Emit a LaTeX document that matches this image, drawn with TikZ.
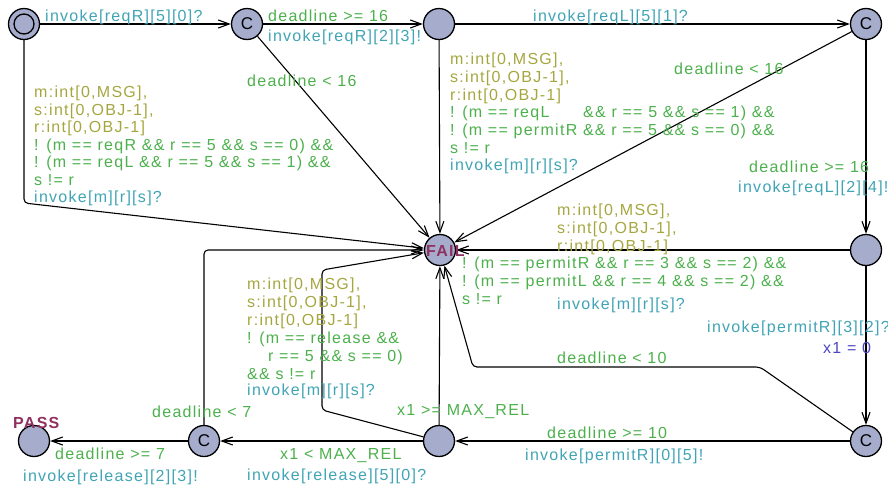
\documentclass[tikz,border=0pt]{standalone}
\usepackage{fontspec}
\setmainfont{Liberation Sans}[LetterSpace=8]
\usetikzlibrary{arrows.meta}
\definecolor{locfill}{RGB}{165,172,204}
\definecolor{selcol}{RGB}{166,166,64}
\definecolor{grdcol}{RGB}{76,176,76}
\definecolor{syncol}{RGB}{64,164,180}
\definecolor{asgcol}{RGB}{74,70,190}
\definecolor{nmcol}{RGB}{144,48,96}
\newcommand\mylbl[5]{\node[tx,#2] (#1) at (#3,#4) {#5};}
\begin{document}
\begin{tikzpicture}[x=1pt,y=-1pt,
  font=\fontsize{16}{17.7}\selectfont,
  loc/.style={circle,draw,fill=locfill,line width=1.3pt,minimum size=31pt,inner sep=0pt},
  comm/.style={loc,font=\fontsize{17}{18}\selectfont},
  conn/.style={line width=1.1pt,-{Straight Barb[length=11pt,width=8pt,line width=1.1pt]},rounded corners=4pt},
  tx/.style={anchor=base west,inner sep=0pt},
  sel/.style={text=selcol},
  grd/.style={text=grdcol},
  syn/.style={text=syncol},
  asg/.style={text=asgcol},
  nm/.style={text=nmcol,font=\fontsize{16}{18}\selectfont\bfseries}]
\useasboundingbox (0,0) rectangle (888,488);
% locations
\node[loc] (init) at (24,24) {};
\node[circle,draw,line width=1.3pt,minimum size=20pt,inner sep=0pt] (initin) at (init.center) {};
\node[comm] (C1) at (247,24) {C};
\node[loc] (N2) at (439,24) {};
\node[comm] (C3) at (866,24) {C};
\node[loc] (FAIL) at (440,250) {};
\node[loc] (N5) at (866,250) {};
\node[comm] (C6) at (866,441) {C};
\node[loc] (N7) at (439,441) {};
\node[comm] (C8) at (204,441) {C};
\node[loc] (PASS) at (34,441) {};
% bend points
\coordinate (b1) at (24,203);
\coordinate (b2) at (760,367);
\coordinate (b3) at (473,367);
\coordinate (b4) at (322,410);
\coordinate (b5) at (322,270);
\coordinate (b6) at (204,250);
% edges
\draw[conn] (init) -- (C1);
\draw[conn] (C1) -- (N2);
\draw[conn] (C1) -- (FAIL);
\draw[conn] (N2) -- (C3);
\draw[conn] (N2) -- (FAIL);
\draw[conn] (C3) -- (FAIL);
\draw[conn] (C3) -- (N5);
\draw[conn] (N5) -- (FAIL);
\draw[conn] (N5) -- (C6);
\draw[conn] (C6) -- (N7);
\draw[conn] (N7) -- (FAIL);
\draw[conn] (N7) -- (C8);
\draw[conn] (C8) -- (PASS);
\draw[conn] (init) -- (b1) -- (FAIL);
\draw[conn] (C6) -- (b2) -- (b3) -- (FAIL);
\draw[conn] (N7) -- (b4) -- (b5) -- (FAIL);
\draw[conn] (C8) -- (b6) -- (FAIL);
% names
\mylbl{nFAIL}{nm}{426}{256}{FAIL}
\mylbl{nPASS}{nm}{13}{428}{PASS}
% top labels
\mylbl{a1}{syn}{45}{21}{invoke[reqR][5][0]?}
\mylbl{a2}{grd}{268}{21}{deadline >= 16}
\mylbl{a3}{syn}{268}{41}{invoke[reqR][2][3]!}
\mylbl{a4}{grd}{247}{86}{deadline < 16}
\mylbl{a5}{syn}{533}{21}{invoke[reqL][5][1]?}
% N2 -> FAIL
\mylbl{b11}{sel}{450}{64}{m:int[0,MSG],}
\mylbl{b12}{sel}{450}{82}{s:int[0,OBJ-1],}
\mylbl{b13}{sel}{450}{100}{r:int[0,OBJ-1]}
\mylbl{b14}{grd}{450}{117}{! (m == reqL}
\mylbl{b15}{grd}{583}{117}{\&\& r == 5 \&\& s == 1) \&\&}
\mylbl{b16}{grd}{450}{135}{! (m == permitR \&\& r == 5 \&\& s == 0) \&\&}
\mylbl{b17}{grd}{450}{153}{s != r}
\mylbl{b18}{syn}{450}{170}{invoke[m][r][s]?}
% C3
\mylbl{c1}{grd}{674}{74}{deadline < 16}
\mylbl{c2}{grd}{749}{172}{deadline >= 16}
\mylbl{c3}{syn}{738}{192}{invoke[reqL][2][4]!}
% init -> FAIL
\mylbl{d1}{sel}{34}{97}{m:int[0,MSG],}
\mylbl{d2}{sel}{34}{115}{s:int[0,OBJ-1],}
\mylbl{d3}{sel}{34}{132}{r:int[0,OBJ-1]}
\mylbl{d4}{grd}{34}{150}{! (m == reqR \&\& r == 5 \&\& s == 0) \&\&}
\mylbl{d5}{grd}{34}{167}{! (m == reqL \&\& r == 5 \&\& s == 1) \&\&}
\mylbl{d6}{grd}{34}{185}{s != r}
\mylbl{d7}{syn}{34}{202}{invoke[m][r][s]?}
% N5 -> FAIL
\mylbl{e1}{sel}{557}{215}{m:int[0,MSG],}
\mylbl{e2}{sel}{557}{233}{s:int[0,OBJ-1],}
\mylbl{e3}{sel}{557}{251}{r:int[0,OBJ-1]}
\mylbl{e4}{grd}{462}{268}{! (m == permitR \&\& r == 3 \&\& s == 2) \&\&}
\mylbl{e5}{grd}{462}{286}{! (m == permitL \&\& r == 4 \&\& s == 2) \&\&}
\mylbl{e6}{grd}{462}{304}{s != r}
\mylbl{e7}{syn}{557}{309}{invoke[m][r][s]?}
% N5 -> C6
\mylbl{f1}{syn}{707}{332}{invoke[permitR][3][2]?}
\mylbl{f2}{asg}{823}{353}{x1 = 0}
% C6
\mylbl{g1}{grd}{557}{363}{deadline < 10}
\mylbl{g2}{grd}{547}{438}{deadline >= 10}
\mylbl{g3}{syn}{525}{460}{invoke[permitR][0][5]!}
% N7
\mylbl{h1}{grd}{397}{415}{x1 >= MAX\_REL}
\mylbl{h2}{sel}{247}{289}{m:int[0,MSG],}
\mylbl{h3}{sel}{247}{307}{s:int[0,OBJ-1],}
\mylbl{h4}{sel}{247}{325}{r:int[0,OBJ-1]}
\mylbl{h5}{grd}{247}{343}{! (m == release \&\&}
\mylbl{h6}{grd}{268}{361}{r == 5 \&\& s == 0)}
\mylbl{h7}{grd}{247}{379}{\&\& s != r}
\mylbl{h8}{syn}{247}{395}{invoke[m][r][s]?}
\mylbl{h9}{grd}{280}{459}{x1 < MAX\_REL}
\mylbl{h10}{syn}{247}{480}{invoke[release][5][0]?}
% C8
\mylbl{k1}{grd}{152}{417}{deadline < 7}
\mylbl{k2}{grd}{55}{459}{deadline >= 7}
\mylbl{k3}{syn}{23}{481}{invoke[release][2][3]!}
\end{tikzpicture}
\end{document}
